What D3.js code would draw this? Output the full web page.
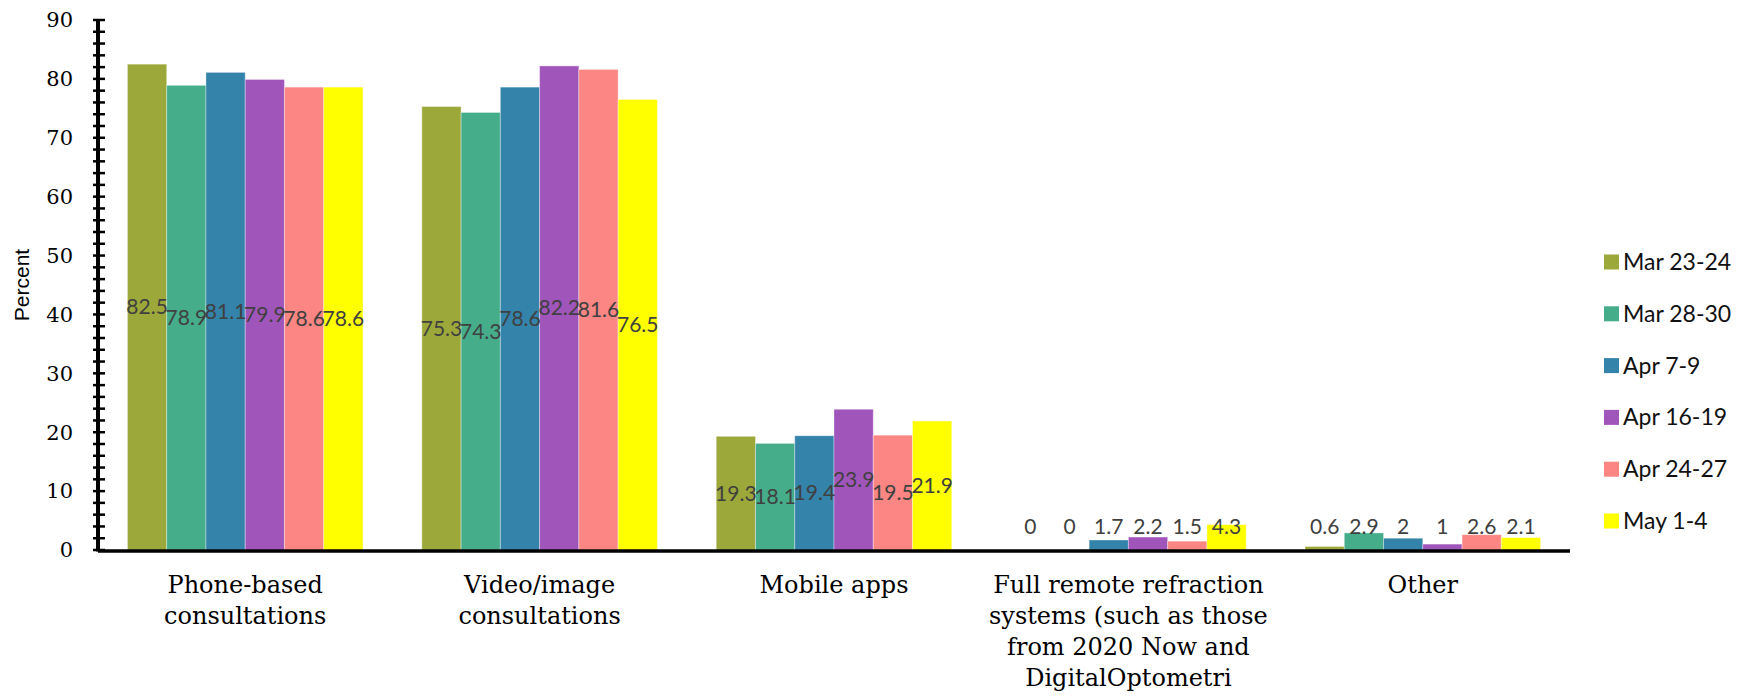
<!DOCTYPE html>
<html>
<head>
<meta charset="utf-8">
<script src="https://cdn.jsdelivr.net/npm/d3@7"></script>
<style>
  html, body { margin: 0; padding: 0; background: #fff; }
  svg { display: block; }
</style>
</head>
<body>
<svg id="chart" width="1750" height="696"></svg>
<script>
// ---- data ----
const categories = [
  "Phone-based consultations",
  "Video/image consultations",
  "Mobile apps",
  "Full remote refraction systems (such as those from 2020 Now and DigitalOptometri",
  "Other"
];
const seriesNames = ["Mar 23-24", "Mar 28-30", "Apr 7-9", "Apr 16-19", "Apr 24-27", "May 1-4"];
const mar2324 = [82.5, 75.3, 19.3, 0, 0.6];
const mar2830 = [78.9, 74.3, 18.1, 0, 2.9];
const apr79   = [81.1, 78.6, 19.4, 1.7, 2];
const apr1619 = [79.9, 82.2, 23.9, 2.2, 1];
const apr2427 = [78.6, 81.6, 19.5, 1.5, 2.6];
const may14   = [78.6, 76.5, 21.9, 4.3, 2.1];
const seriesValues = [mar2324, mar2830, apr79, apr1619, apr2427, may14];
const yTicks = [0, 10, 20, 30, 40, 50, 60, 70, 80, 90];
const colors = ["#9ca839", "#45ad8a", "#3383ab", "#a055bb", "#fb8683", "#ffff00"];

// ---- layout ----
const svg = d3.select("#chart");
const x0 = 98, x1 = 1570, yTop = 20, yBase = 550;

const x = d3.scaleBand().domain(categories).range([x0, x1]).paddingInner(0.2).paddingOuter(0.1);
const xs = d3.scaleBand().domain(seriesNames).range([0, x.bandwidth()]).padding(0);
const y = d3.scaleLinear().domain([0, 90]).range([yBase, yTop]);

const rows = [];
categories.forEach((c, ci) => {
  seriesNames.forEach((s, si) => {
    rows.push({ cat: c, series: s, si, value: seriesValues[si][ci] });
  });
});

// bars
svg.append("g").selectAll("rect").data(rows).join("rect")
  .attr("x", d => x(d.cat) + xs(d.series))
  .attr("y", d => y(d.value))
  .attr("width", xs.bandwidth())
  .attr("height", d => yBase - y(d.value))
  .attr("fill", d => colors[d.si])
  .attr("stroke", "rgba(255,255,255,0.35)")
  .attr("stroke-width", 1);

// data labels
svg.append("g").selectAll("text").data(rows).join("text")
  .attr("x", d => x(d.cat) + xs(d.series) + xs.bandwidth() / 2)
  .attr("y", d => Math.min(y(d.value / 2), yBase - 23))
  .attr("dy", "0.35em")
  .attr("text-anchor", "middle")
  .attr("font-family", "Lato, 'Open Sans', sans-serif")
  .attr("font-size", 21)
  .attr("fill", "#404040")
  .text(d => d.value);

// y axis with minor ticks
const yAxisG = svg.append("g").attr("transform", `translate(${x0},0)`);
const minor = d3.range(0, 91, 2);
yAxisG.selectAll("line.tick").data(minor).join("line")
  .attr("class", "tick")
  .attr("x1", -5).attr("x2", 7)
  .attr("y1", d => y(d)).attr("y2", d => y(d))
  .attr("stroke", "#000").attr("stroke-width", 2.5);
yAxisG.append("line")
  .attr("x1", 0).attr("x2", 0).attr("y1", y(90) - 1).attr("y2", yBase + 1.5)
  .attr("stroke", "#000").attr("stroke-width", 4);
yAxisG.selectAll("text").data(yTicks).join("text")
  .attr("x", -25).attr("y", d => y(d)).attr("dy", "0.35em")
  .attr("text-anchor", "end")
  .attr("font-family", "'DejaVu Serif', serif")
  .attr("font-size", 21)
  .attr("fill", "#000")
  .text(d => d);

// x axis line
svg.append("line")
  .attr("x1", x0).attr("x2", x1).attr("y1", yBase + 1).attr("y2", yBase + 1)
  .attr("stroke", "#000").attr("stroke-width", 3.5);

// category labels (wrapped)
const catG = svg.append("g");
function wrapLines(text, width, font) {
  const ctx = document.createElement("canvas").getContext("2d");
  ctx.font = font;
  const words = text.split(" ");
  const lines = [];
  let line = "";
  words.forEach(w => {
    const test = line ? line + " " + w : w;
    if (ctx.measureText(test).width > width && line) { lines.push(line); line = w; }
    else line = test;
  });
  if (line) lines.push(line);
  return lines;
}
categories.forEach(c => {
  const lines = wrapLines(c, 300, "24px 'DejaVu Serif'");
  const t = catG.append("text")
    .attr("text-anchor", "middle")
    .attr("font-family", "'DejaVu Serif', serif")
    .attr("font-size", 24)
    .attr("fill", "#000");
  lines.forEach((l, i) => {
    t.append("tspan").attr("x", x(c) + x.bandwidth() / 2).attr("y", 585 + i * 31).attr("dy", "0.35em").text(l);
  });
});

// y axis title
svg.append("text")
  .attr("transform", `translate(22,${(yTop + yBase) / 2}) rotate(-90)`)
  .attr("text-anchor", "middle").attr("dy", "0.35em")
  .attr("font-family", "'Liberation Sans', Arial, sans-serif")
  .attr("font-size", 21)
  .attr("fill", "#000")
  .text("Percent");

// legend
const legY = d3.scalePoint().domain(seriesNames).range([262, 521]);
const leg = svg.append("g").selectAll("g").data(seriesNames).join("g")
  .attr("transform", d => `translate(1604,${legY(d)})`);
leg.append("rect").attr("x", 0).attr("y", -7.5).attr("width", 15).attr("height", 15)
  .attr("fill", (d, i) => colors[i]);
leg.append("text").attr("x", 19).attr("y", 0).attr("dy", "0.35em")
  .attr("font-family", "Lato, 'Open Sans', sans-serif")
  .attr("font-size", 23)
  .attr("fill", "#111")
  .text(d => d);
</script>
</body>
</html>
